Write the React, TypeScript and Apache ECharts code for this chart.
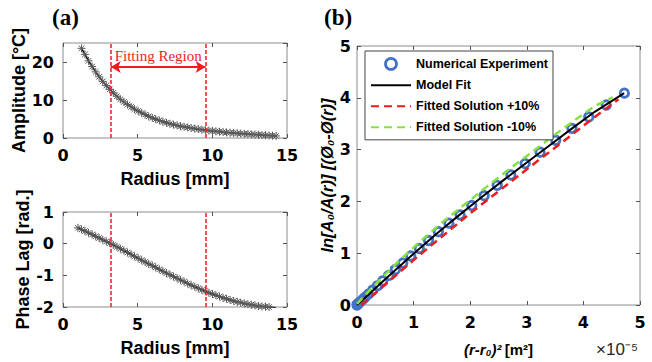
import React, { useEffect, useRef } from "react";
import * as echarts from "echarts";

// ---------- (a) top: amplitude vs radius ----------
const radius = [
  1.0, 1.24, 1.47, 1.71, 1.95, 2.19, 2.42, 2.66, 2.9, 3.13, 3.37, 3.61, 3.84, 4.08, 4.32, 4.56, 4.79, 5.03, 5.27,
  5.5, 5.74, 5.98, 6.21, 6.45, 6.69, 6.93, 7.16, 7.4, 7.64, 7.87, 8.11, 8.35, 8.58, 8.82, 9.06, 9.3, 9.53, 9.77,
  10.01, 10.24, 10.48, 10.72, 10.95, 11.19, 11.43, 11.67, 11.9, 12.14, 12.38, 12.61, 12.85, 13.09, 13.32, 13.56,
  13.8, 14.03, 14.27,
];
// amplitude starts at the second radius value
const amplitude = [
  23.6, 22.0, 20.3, 18.8, 17.4, 16.1, 14.9, 13.8, 12.8, 11.9, 11.0, 10.2, 9.5, 8.8, 8.2, 7.6, 7.1, 6.6, 6.15,
  5.7, 5.3, 4.95, 4.6, 4.3, 4.0, 3.76, 3.52, 3.3, 3.1, 2.95, 2.78, 2.62, 2.47, 2.33, 2.2, 2.08, 1.96, 1.85, 1.75,
  1.65, 1.56, 1.47, 1.39, 1.31, 1.24, 1.17, 1.1, 1.03, 0.97, 0.91, 0.85, 0.79, 0.73, 0.67, 0.61, 0.55,
];
// ---------- (a) bottom: phase lag vs radius ----------
const phaseLag = [
  0.5, 0.45, 0.4, 0.34, 0.29, 0.23, 0.18, 0.12, 0.07, 0.02, -0.04, -0.1, -0.16, -0.22, -0.28, -0.34, -0.4, -0.46,
  -0.52, -0.58, -0.64, -0.69, -0.75, -0.81, -0.87, -0.93, -0.98, -1.04, -1.09, -1.15, -1.2, -1.26, -1.31, -1.36,
  -1.41, -1.46, -1.5, -1.55, -1.59, -1.63, -1.67, -1.71, -1.74, -1.78, -1.81, -1.84, -1.86, -1.89, -1.91, -1.93,
  -1.95, -1.97, -1.98, -1.99, -2.0, -2.01, -2.02,
];
const fittingRegion = [3.2, 9.55];
const arrowLevel = 18.7;

// ---------- (b): x in units of 1e-5 m^2 ----------
const expX = [
  0, 0.0056, 0.0225, 0.0506, 0.0899, 0.1404, 0.2022, 0.2752, 0.3595, 0.455, 0.5617, 0.6797, 0.8089, 0.9493, 1.101,
  1.2639, 1.438, 1.6233, 1.8199, 2.0277, 2.2468, 2.4771, 2.7186, 2.9714, 3.2353, 3.5106, 3.797, 4.0947, 4.4035,
  4.7237,
];
const expY = [
  0, 0.01, 0.025, 0.055, 0.095, 0.145, 0.21, 0.285, 0.37, 0.465, 0.57, 0.685, 0.81, 0.945, 1.09, 1.245, 1.415, 1.58,
  1.74, 1.92, 2.11, 2.31, 2.51, 2.73, 2.95, 3.18, 3.41, 3.63, 3.86, 4.09,
];
const fitX = [0, 0.3, 0.6, 1.0, 1.4, 1.8, 2.2, 2.6, 3.0, 3.4, 3.8, 4.2, 4.72];
const fitY = [0, 0.3, 0.6, 0.99, 1.37, 1.73, 2.08, 2.42, 2.75, 3.08, 3.41, 3.73, 4.09];
const plusX = [0.08, 0.4, 0.8, 1.2, 1.6, 2.0, 2.4, 2.8, 3.2, 3.6, 4.0, 4.3, 4.62];
const plusY = [0, 0.3, 0.68, 1.05, 1.41, 1.77, 2.11, 2.45, 2.79, 3.12, 3.46, 3.71, 3.97];
const minusX = [0, 0.3, 0.7, 1.1, 1.5, 1.9, 2.3, 2.7, 3.1, 3.5, 3.9, 4.2, 4.52];
const minusY = [0.02, 0.37, 0.81, 1.21, 1.59, 1.94, 2.29, 2.63, 2.96, 3.29, 3.61, 3.84, 4.01];

const legendNames = ["Numerical Experiment", "Model Fit", "Fitted Solution +10%", "Fitted Solution -10%"];

const SANS = "'Liberation Sans', Arial, Helvetica, sans-serif";
const WIDE = "'DejaVu Sans', Verdana, sans-serif";
const SERIF = "'Liberation Serif', 'Times New Roman', serif";
const RED = "#ee1c1c";
const GREEN = "#86e23e";
const BLUE = "#4472c4";
const ASTERISK = "path://M0,-1L0,1M-1,0L1,0M-0.7,-0.7L0.7,0.7M-0.7,0.7L0.7,-0.7";

const zip = (xs: number[], ys: number[]) => xs.map((x, i) => [x, ys[i]]);

const tickLabel = { fontFamily: WIDE, fontWeight: "bold", fontSize: 16, color: "#000" };
const nameStyle = { fontFamily: SANS, fontWeight: "bold", fontSize: 18, color: "#000" };
const tick = { show: true, inside: true, length: 4, lineStyle: { color: "#555" } };
const noLine = { show: false, onZero: false };

function mainX(gridIndex: number, min: number, max: number, interval: number, extra: any = {}) {
  return {
    type: "value", gridIndex, min, max, interval, position: "bottom",
    axisLine: noLine, axisTick: tick, splitLine: { show: false },
    axisLabel: { ...tickLabel, margin: 9 },
    ...extra,
  };
}
function mirrorX(gridIndex: number, min: number, max: number, interval: number) {
  return {
    type: "value", gridIndex, min, max, interval, position: "top",
    axisLine: noLine, axisTick: tick, splitLine: { show: false }, axisLabel: { show: false },
  };
}
function mainY(gridIndex: number, min: number, max: number, interval: number, extra: any = {}) {
  return {
    type: "value", gridIndex, min, max, interval, position: "left",
    axisLine: noLine, axisTick: tick, splitLine: { show: false },
    axisLabel: { ...tickLabel, margin: 9 },
    ...extra,
  };
}
function mirrorY(gridIndex: number, min: number, max: number, interval: number) {
  return {
    type: "value", gridIndex, min, max, interval, position: "right",
    axisLine: noLine, axisTick: tick, splitLine: { show: false }, axisLabel: { show: false },
  };
}

const vLines = fittingRegion.map((x) => ({ xAxis: x }));
const hiddenSymbol = { color: "rgba(0,0,0,0)", borderColor: "rgba(0,0,0,0)", borderWidth: 0 };

const option: any = {
  animation: false,
  backgroundColor: "#fff",
  title: [
    { text: "(a)", left: 52, top: 6, padding: 0, textStyle: { fontFamily: SERIF, fontWeight: "bold", fontSize: 23, color: "#000" } },
    { text: "(b)", left: 324, top: 6, padding: 0, textStyle: { fontFamily: SERIF, fontWeight: "bold", fontSize: 23, color: "#000" } },
  ],
  grid: [
    { left: 63, top: 43, width: 224, height: 95, show: true, borderColor: "#8c8c8c", borderWidth: 1 },
    { left: 63, top: 212, width: 224, height: 95, show: true, borderColor: "#8c8c8c", borderWidth: 1 },
    { left: 357, top: 46, width: 283, height: 260, show: true, borderColor: "#8c8c8c", borderWidth: 1 },
  ],
  xAxis: [
    mainX(0, 0, 15, 5, { name: "Radius [mm]", nameLocation: "middle", nameGap: 32, nameTextStyle: nameStyle }),
    mirrorX(0, 0, 15, 5),
    mainX(1, 0, 15, 5, { name: "Radius [mm]", nameLocation: "middle", nameGap: 32, nameTextStyle: nameStyle }),
    mirrorX(1, 0, 15, 5),
    mainX(2, 0, 5, 1, {
      name: "{i|(r-r₀)²} {n|[m²]}",
      nameLocation: "middle",
      nameGap: 37,
      nameTextStyle: {
        rich: {
          i: { fontFamily: SANS, fontWeight: "bold", fontStyle: "italic", fontSize: 15, color: "#000" },
          n: { fontFamily: SANS, fontWeight: "bold", fontSize: 15, color: "#000" },
        },
      },
    }),
    mirrorX(2, 0, 5, 1),
  ],
  yAxis: [
    mainY(0, 0, 25, 10, {
      name: "Amplitude [°C]", nameLocation: "middle", nameGap: 27, nameRotate: 90, nameTextStyle: nameStyle,
      axisLabel: { ...tickLabel, margin: 9, showMaxLabel: false },
    }),
    mirrorY(0, 0, 25, 10),
    mainY(1, -2, 1, 1, { name: "Phase Lag [rad.]", nameLocation: "middle", nameGap: 27, nameRotate: 90, nameTextStyle: nameStyle }),
    mirrorY(1, -2, 1, 1),
    mainY(2, 0, 5, 1, {
      name: "ln[A₀/A(r)] [(Ø₀-Ø(r)]", nameLocation: "middle", nameGap: 17, nameRotate: 90,
      nameTextStyle: { fontFamily: SANS, fontWeight: "bold", fontStyle: "italic", fontSize: 16.5, color: "#000" },
      axisLabel: { ...tickLabel, margin: 6 },
    }),
    mirrorY(2, 0, 5, 1),
  ],
  legend: {
    show: true,
    orient: "vertical",
    left: 365,
    top: 51,
    padding: [6, 5, 6, 5],
    itemWidth: 40,
    itemHeight: 11,
    itemGap: 8,
    backgroundColor: "#fff",
    borderColor: "#444",
    borderWidth: 1,
    textStyle: { fontFamily: SANS, fontWeight: "bold", fontSize: 12.5, color: "#000" },
    data: [
      { name: legendNames[0], icon: "circle", itemStyle: { color: "#fff", borderColor: BLUE, borderWidth: 2.8 } },
      { name: legendNames[1], itemStyle: hiddenSymbol },
      { name: legendNames[2], itemStyle: hiddenSymbol },
      { name: legendNames[3], itemStyle: hiddenSymbol },
    ],
  },
  graphic: [
    {
      type: "text",
      right: 14,
      top: 341,
      style: { text: "×10⁻⁵", font: `17px ${SANS}`, fill: "#262626" },
    },
  ],
  series: [
    {
      name: "amplitude",
      type: "line",
      xAxisIndex: 0,
      yAxisIndex: 0,
      data: zip(radius.slice(1), amplitude),
      lineStyle: { color: "#111", width: 1.5 },
      symbol: ASTERISK,
      symbolSize: 8,
      itemStyle: { color: "rgba(0,0,0,0)", borderColor: "#5a5a5a", borderWidth: 1 },
      markLine: {
        silent: true,
        symbol: "none",
        label: { show: false },
        lineStyle: { color: RED, type: [4, 2], width: 1.5 },
        data: [
          ...vLines,
          [
            {
              coord: [fittingRegion[0], arrowLevel],
              symbol: "arrow",
              symbolSize: [9, 10],
              lineStyle: { color: RED, type: "solid", width: 2 },
              label: {
                show: true,
                position: "insideMiddleTop",
                formatter: "Fitting Region",
                color: RED,
                fontFamily: SERIF,
                fontSize: 15,
                distance: 3,
              },
            },
            { coord: [fittingRegion[1], arrowLevel], symbol: "arrow", symbolSize: [9, 10] },
          ],
        ],
      },
    },
    {
      name: "phase",
      type: "line",
      xAxisIndex: 2,
      yAxisIndex: 2,
      data: zip(radius, phaseLag),
      lineStyle: { color: "#111", width: 1.5 },
      symbol: ASTERISK,
      symbolSize: 8,
      itemStyle: { color: "rgba(0,0,0,0)", borderColor: "#5a5a5a", borderWidth: 1 },
      markLine: {
        silent: true,
        symbol: "none",
        label: { show: false },
        lineStyle: { color: RED, type: [4, 2], width: 1.5 },
        data: vLines,
      },
    },
    {
      name: legendNames[0],
      type: "scatter",
      xAxisIndex: 4,
      yAxisIndex: 4,
      data: zip(expX, expY),
      symbol: "circle",
      symbolSize: 8.5,
      itemStyle: { color: "rgba(255,255,255,0)", borderColor: BLUE, borderWidth: 2.8, opacity: 1 },
    },
    {
      name: legendNames[1],
      type: "line",
      xAxisIndex: 4,
      yAxisIndex: 4,
      data: zip(fitX, fitY),
      symbol: "none",
      lineStyle: { color: "#000", width: 2 },
      itemStyle: { color: "#000" },
    },
    {
      name: legendNames[2],
      type: "line",
      xAxisIndex: 4,
      yAxisIndex: 4,
      data: zip(plusX, plusY),
      symbol: "none",
      lineStyle: { color: RED, width: 2.5, type: [8, 5] },
      itemStyle: { color: RED },
    },
    {
      name: legendNames[3],
      type: "line",
      xAxisIndex: 4,
      yAxisIndex: 4,
      data: zip(minusX, minusY),
      symbol: "none",
      lineStyle: { color: GREEN, width: 2.5, type: [8, 5] },
      itemStyle: { color: GREEN },
    },
  ],
};

export default function App() {
  const ref = useRef<HTMLDivElement>(null);
  useEffect(() => {
    if (!ref.current) return;
    const chart = echarts.init(ref.current, null, { renderer: "svg" });
    chart.setOption(option);
    return () => chart.dispose();
  }, []);
  return (
    <div
      ref={ref}
      style={{ position: "fixed", left: 0, top: 0, width: 652, height: 362, background: "#fff" }}
    />
  );
}
